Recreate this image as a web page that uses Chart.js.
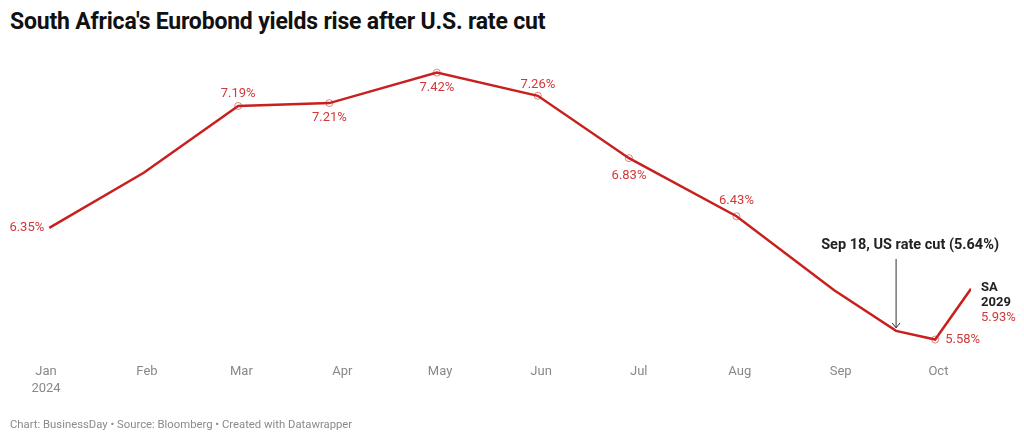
<!DOCTYPE html>
<html>
<head>
<meta charset="utf-8">
<script src="https://cdn.jsdelivr.net/npm/chart.js@4"></script>
<style>
  html, body { margin: 0; padding: 0; background: #fff; }
  body { width: 1024px; height: 440px; position: relative; overflow: hidden; font-family: Roboto, sans-serif; }
  #titulo { position: absolute; left: 10px; top: 8px; font-size: 23px; font-weight: 700; color: #111; letter-spacing: -0.2px; }
  #rodape { position: absolute; left: 10px; top: 418px; font-size: 11.3px; color: #8a8a8a; }
  #grafico { position: absolute; left: 0; top: 0; }
</style>
</head>
<body>
<div id="titulo">South Africa's Eurobond yields rise after U.S. rate cut</div>
<canvas id="grafico" width="1024" height="440"></canvas>
<div id="rodape">Chart: BusinessDay • Source: Bloomberg • Created with Datawrapper</div>
<script>
// Dias desde 1 jan 2024 e rendimentos do SA 2029
const dias = [1, 30, 59, 87, 120, 151, 179, 212, 242, 261, 273, 284];
const rendimentos = [6.35, 6.73, 7.19, 7.21, 7.42, 7.26, 6.83, 6.43, 5.92, 5.64, 5.58, 5.93];
const rotulos = ["6.35%", "", "7.19%", "7.21%", "7.42%", "7.26%", "6.83%", "6.43%", "", "", "5.58%", ""];

// Ticks do eixo x (início de cada mês)
const inicioMeses = [0, 31, 60, 91, 121, 152, 182, 213, 244, 274];
const nomesMeses = [["Jan", "2024"], "Feb", "Mar", "Apr", "May", "Jun", "Jul", "Aug", "Sep", "Oct"];

const vermelho = "#c8201f";
const vermelhoTexto = "#d0383a";

// posição dos rótulos: [dx, dy, alinhamento]
const posRotulos = {
  0: [-5, 0, "right"],
  2: [0, -12, "center"],
  3: [0, 15, "center"],
  4: [0, 15, "center"],
  5: [0, -11, "center"],
  6: [0, 18, "center"],
  7: [0, -16, "center"],
  10: [10, 0, "left"]
};

const pluginRotulos = {
  id: "rotulos",
  afterDatasetsDraw(chart) {
    const ctx = chart.ctx;
    const meta = chart.getDatasetMeta(0);
    ctx.save();
    ctx.font = "13px Roboto";
    ctx.fillStyle = vermelhoTexto;
    ctx.textBaseline = "middle";
    rotulos.forEach((r, i) => {
      if (!r) return;
      const p = meta.data[i];
      const [dx, dy, al] = posRotulos[i];
      ctx.textAlign = al;
      ctx.fillText(r, p.x + dx, p.y + dy);
    });

    // rótulo do fim da linha
    const ult = meta.data[meta.data.length - 1];
    ctx.textAlign = "left";
    ctx.fillStyle = "#222";
    ctx.font = "bold 13px Roboto";
    ctx.fillText("SA", ult.x + 10, ult.y - 1);
    ctx.fillText("2029", ult.x + 10, ult.y + 14);
    ctx.font = "13px Roboto";
    ctx.fillStyle = vermelhoTexto;
    ctx.fillText(rendimentos[rendimentos.length - 1].toFixed(2) + "%", ult.x + 10, ult.y + 29);

    // anotação do corte de juros
    const corte = meta.data[9];
    ctx.fillStyle = "#222";
    ctx.font = "bold 14.5px Roboto";
    ctx.textAlign = "center";
    ctx.fillText("Sep 18, US rate cut (5.64%)", corte.x + 14, corte.y - 86);
    ctx.strokeStyle = "#333";
    ctx.lineWidth = 1;
    ctx.beginPath();
    ctx.moveTo(corte.x, corte.y - 72);
    ctx.lineTo(corte.x, corte.y - 3);
    ctx.moveTo(corte.x - 4, corte.y - 8);
    ctx.lineTo(corte.x, corte.y - 3);
    ctx.lineTo(corte.x + 4, corte.y - 8);
    ctx.stroke();
    ctx.restore();
  }
};

new Chart(document.getElementById("grafico").getContext("2d"), {
  type: "line",
  data: {
    datasets: [{
      label: "SA 2029",
      data: dias.map((d, i) => ({ x: d, y: rendimentos[i] })),
      borderColor: vermelho,
      borderWidth: 2.5,
      pointRadius: rotulos.map((r, i) => (r && i > 0 ? 3.5 : 0)),
      pointBorderColor: "rgba(200,32,31,0.55)",
      pointBorderWidth: 1,
      pointBackgroundColor: "rgba(255,255,255,0)",
      tension: 0
    }]
  },
  options: {
    responsive: false,
    animation: false,
    layout: { padding: { top: 61, left: 46, right: 53, bottom: 31 } },
    plugins: {
      legend: { display: false },
      tooltip: { enabled: false }
    },
    scales: {
      x: {
        type: "linear",
        min: 0,
        max: 284,
        grid: { display: false, drawTicks: false },
        border: { display: false },
        afterBuildTicks(axis) {
          axis.ticks = inicioMeses.map(v => ({ value: v }));
        },
        ticks: {
          autoSkip: false,
          maxRotation: 0,
          padding: 12,
          color: "#888",
          font: { family: "Roboto", size: 13, lineHeight: 1.3 },
          callback: (v) => nomesMeses[inicioMeses.indexOf(v)]
        }
      },
      y: {
        display: false,
        min: 5.5,
        max: 7.5
      }
    }
  },
  plugins: [pluginRotulos]
});
</script>
</body>
</html>
